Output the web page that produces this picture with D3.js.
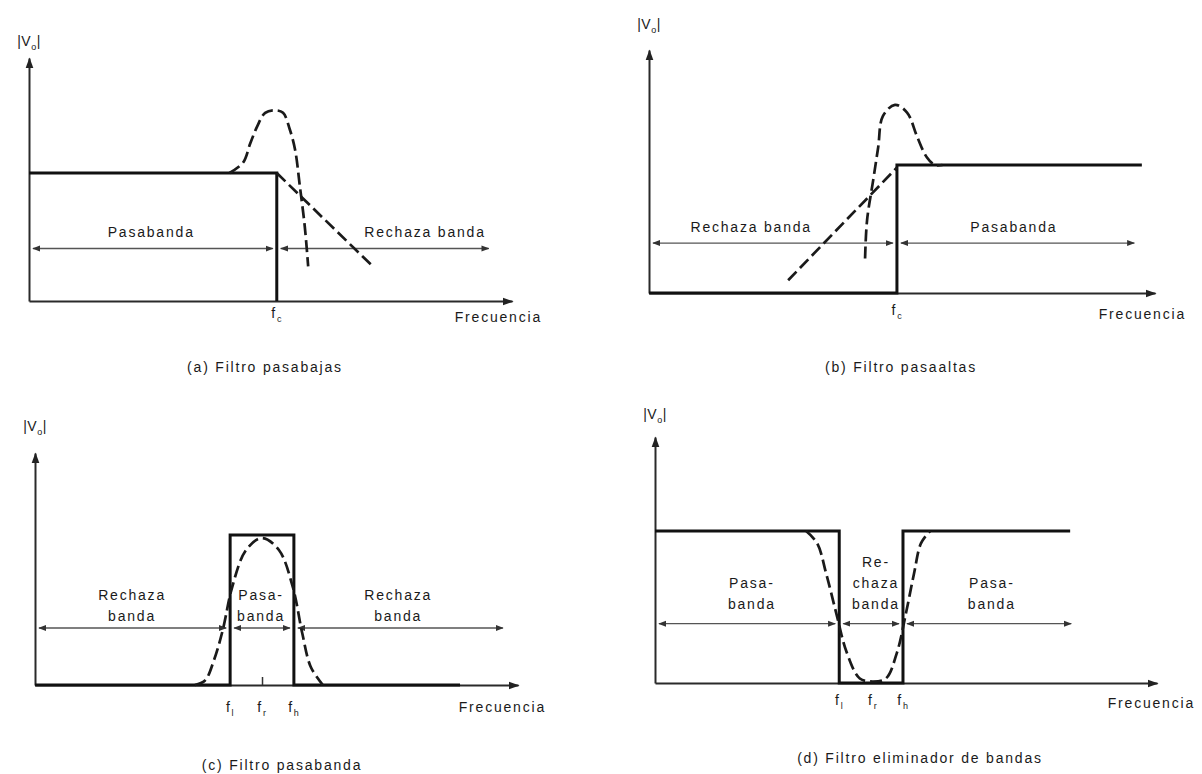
<!DOCTYPE html>
<html>
<head>
<meta charset="utf-8">
<script src="https://cdn.jsdelivr.net/npm/d3@7"></script>
<style>
  body { margin: 0; background: #fff; }
  svg text { font-family: "Liberation Sans", Arial, sans-serif; fill: #1a1a1a; letter-spacing: 1.8px; }
</style>
</head>
<body>
<svg id="chart" width="1202" height="774"></svg>
<script>
// frequency runs 0..100 along every x axis, |Vo| = 1 is the passband level

// (a) low pass
var lpTicks  = [{f: 51.3, sub: 'c'}],
    lpIdeal  = [[0, 1], [51.3, 1], [51.3, 0]],
    lpSlope  = [[51.3, 1], [71.2, 0.27]],
    lpReal   = [[41.5, 1.0], [44.3, 1.08], [45.8, 1.23], [47.2, 1.36], [48.9, 1.47], [50.9, 1.49],
                [52.6, 1.47], [54.0, 1.34], [55.1, 1.18], [56.1, 0.89], [57.1, 0.58], [57.8, 0.27]],
    lpBands  = [{from: 0, to: 51.3, at: 25.3, text: ['Pasabanda']},
                {from: 51.3, to: 96, at: 82, text: ['Rechaza banda']}];

// (b) high pass
var hpTicks  = [{f: 49, sub: 'c'}],
    hpIdeal  = [[0, 0], [49, 0], [49, 1], [97.4, 1]],
    hpSlope  = [[27.5, 0.10], [49, 0.98]],
    hpReal   = [[42.7, 0.27], [43.1, 0.57], [44.3, 0.88], [45.3, 1.14], [46.2, 1.38], [48.6, 1.47],
                [51.0, 1.41], [53.0, 1.22], [54.9, 1.06], [56.5, 1.0], [58, 1.0]],
    hpBands  = [{from: 0, to: 49, at: 20.2, text: ['Rechaza banda']},
                {from: 49, to: 96.7, at: 72.1, text: ['Pasabanda']}];

// (c) band pass
var bpTicks  = [{f: 40.4, sub: 'l'}, {f: 47.0, sub: 'r', mark: true}, {f: 53.6, sub: 'h'}],
    bpIdeal  = [[0, 0], [40.4, 0], [40.4, 1], [53.6, 1], [53.6, 0], [88, 0]],
    bpReal   = [[33.1, 0], [35.2, 0.03], [37.1, 0.17], [38.9, 0.37], [40.8, 0.65], [43.7, 0.90], [47.0, 0.98],
                [50.5, 0.90], [53.4, 0.65], [55.3, 0.35], [57.1, 0.12], [59.6, 0]],
    bpBands  = [{from: 0, to: 40.4, at: 20.1, text: ['Rechaza', 'banda']},
                {from: 40.4, to: 53.6, at: 46.8, text: ['Pasa-', 'banda']},
                {from: 53.6, to: 97.7, at: 75.2, text: ['Rechaza', 'banda']}];

// (d) band stop
var bsTicks  = [{f: 36.7, sub: 'l'}, {f: 43.4, sub: 'r'}, {f: 49.4, sub: 'h'}],
    bsIdeal  = [[0, 1], [36.7, 1], [36.7, 0], [49.4, 0], [49.4, 1], [82.7, 1]],
    bsReal   = [[30.1, 1.0], [32.3, 0.92], [34.1, 0.72], [36.1, 0.46], [38.2, 0.20], [40.8, 0.03], [43.4, 0.01],
                [46.0, 0.03], [48.2, 0.20], [50.0, 0.46], [51.6, 0.72], [53.0, 0.92], [54.8, 1.0]],
    bsBands  = [{from: 0, to: 36.7, at: 19.3, text: ['Pasa-', 'banda']},
                {from: 36.7, to: 49.4, at: 44, text: ['Re-', 'chaza', 'banda']},
                {from: 49.4, to: 83.7, at: 67.1, text: ['Pasa-', 'banda']}];

var captions = ['(a) Filtro pasabajas', '(b) Filtro pasaaltas', '(c) Filtro pasabanda', '(d) Filtro eliminador de bandas'],
    xTitle   = 'Frecuencia';

// pixel layout of each panel
var panels = [
    {x0: 29,  x1: 512,  y0: 301, level: 173, yTop: 58,  arrowAt: 0.41, labelAt: 0.50, vLabelY: 46,
     tickDy: 17, freqX: 542,  freqDy: 21, capX: 265, capY: 372,
     ticks: lpTicks, ideal: lpIdeal, slope: lpSlope, real: lpReal, bands: lpBands, caption: captions[0]},
    {x0: 649, x1: 1155, y0: 293, level: 165, yTop: 50,  arrowAt: 0.39, labelAt: 0.48, vLabelY: 29,
     tickDy: 22, freqX: 1186, freqDy: 26, capX: 901, capY: 372,
     ticks: hpTicks, ideal: hpIdeal, slope: hpSlope, real: hpReal, bands: hpBands, caption: captions[1]},
    {x0: 35,  x1: 518,  y0: 685, level: 535, yTop: 453, arrowAt: 0.38, labelAt: 0.43, vLabelY: 431,
     tickDy: 27, freqX: 546,  freqDy: 27, capX: 282, capY: 770,
     ticks: bpTicks, ideal: bpIdeal, slope: null, real: bpReal, bands: bpBands, caption: captions[2]},
    {x0: 655, x1: 1157, y0: 683, level: 531, yTop: 437, arrowAt: 0.39, labelAt: 0.49, vLabelY: 419,
     tickDy: 22, freqX: 1195, freqDy: 25, capX: 920, capY: 763,
     ticks: bsTicks, ideal: bsIdeal, slope: null, real: bsReal, bands: bsBands, caption: captions[3]}
];

var svg  = d3.select('#chart'),
    defs = svg.append('defs');

defs.append('marker')
    .attr('id', 'axisHead')
    .attr('viewBox', '0 -5 10 10')
    .attr('refX', 9).attr('refY', 0)
    .attr('markerUnits', 'userSpaceOnUse')
    .attr('markerWidth', 11).attr('markerHeight', 11)
    .attr('orient', 'auto')
  .append('path')
    .attr('d', 'M0,-3.6L10,0L0,3.6Z')
    .attr('fill', '#222');

defs.append('marker')
    .attr('id', 'bandHead')
    .attr('viewBox', '0 -5 10 10')
    .attr('refX', 9).attr('refY', 0)
    .attr('markerUnits', 'userSpaceOnUse')
    .attr('markerWidth', 8).attr('markerHeight', 8)
    .attr('orient', 'auto-start-reverse')
  .append('path')
    .attr('d', 'M0,-3.8L10,0L0,3.8Z')
    .attr('fill', '#333');

panels.forEach(drawPanel);

function drawPanel(p) {
    var g = svg.append('g'),
        x = d3.scaleLinear().domain([0, 100]).range([p.x0, p.x1]),
        y = d3.scaleLinear().domain([0, 1]).range([p.y0, p.level]),
        yAxisScale = d3.scaleLinear().domain([0, y.invert(p.yTop)]).range([p.y0, p.yTop]),
        straight = d3.line().x(function(d) { return x(d[0]); }).y(function(d) { return y(d[1]); }),
        smooth = d3.line().x(function(d) { return x(d[0]); }).y(function(d) { return y(d[1]); })
            .curve(d3.curveCatmullRom.alpha(0.5));

    // band arrows
    g.selectAll('line.band')
        .data(p.bands)
        .enter()
        .append('line')
        .attr('class', 'band')
        .attr('x1', function(d) { return x(d.from) + 4; })
        .attr('x2', function(d) { return x(d.to) - 4; })
        .attr('y1', y(p.arrowAt))
        .attr('y2', y(p.arrowAt))
        .attr('stroke', '#555')
        .attr('stroke-width', 1.3)
        .attr('marker-start', 'url(#bandHead)')
        .attr('marker-end', 'url(#bandHead)');

    // band names, bottom line sits on labelAt
    p.bands.forEach(function(b) {
        var n = b.text.length;
        g.selectAll(null)
            .data(b.text)
            .enter()
            .append('text')
            .attr('x', x(b.at))
            .attr('y', function(d, i) { return y(p.labelAt) - (n - 1 - i) * 21; })
            .attr('text-anchor', 'middle')
            .style('font-size', '14px')
            .text(function(d) { return d; });
    });

    // axes
    var xAxis = g.append('g')
        .attr('transform', 'translate(0,' + p.y0 + ')')
        .call(d3.axisBottom(x)
            .tickValues(p.ticks.map(function(t) { return t.f; }))
            .tickSizeInner(0)
            .tickSizeOuter(0)
            .tickFormat(''));
    xAxis.select('.domain')
        .attr('stroke', '#2a2a2a')
        .attr('stroke-width', 2)
        .attr('marker-end', 'url(#axisHead)');
    xAxis.selectAll('.tick line')
        .attr('y2', function(d, i) { return p.ticks[i].mark ? -8 : 0; })
        .attr('stroke', '#333')
        .attr('stroke-width', 1.5);
    xAxis.selectAll('.tick text')
        .attr('y', p.tickDy)
        .attr('dy', null)
        .attr('fill', '#1a1a1a')
        .style('font-family', '"Liberation Sans", Arial, sans-serif')
        .style('font-size', '14px')
        .each(function(d, i) {
            var t = d3.select(this);
            t.append('tspan').text('f');
            t.append('tspan').attr('dy', 4).style('font-size', '9px').text(p.ticks[i].sub);
        });

    var yAxis = g.append('g')
        .attr('transform', 'translate(' + p.x0 + ',0)')
        .call(d3.axisLeft(yAxisScale).tickValues([]).tickSizeOuter(0));
    yAxis.select('.domain')
        .attr('stroke', '#2a2a2a')
        .attr('stroke-width', 2)
        .attr('marker-end', 'url(#axisHead)');

    // ideal response
    g.append('path')
        .attr('d', straight(p.ideal))
        .attr('fill', 'none')
        .attr('stroke', '#111')
        .attr('stroke-width', 3);

    // practical responses, dashed
    if (p.slope) {
        g.append('path')
            .attr('d', straight(p.slope))
            .attr('fill', 'none')
            .attr('stroke', '#1a1a1a')
            .attr('stroke-width', 2.7)
            .attr('stroke-dasharray', '12,5');
    }
    g.append('path')
        .attr('d', smooth(p.real))
        .attr('fill', 'none')
        .attr('stroke', '#1a1a1a')
        .attr('stroke-width', 2.7)
        .attr('stroke-dasharray', '12,5');

    // |Vo| label
    var v = g.append('text')
        .attr('x', p.x0)
        .attr('y', p.vLabelY)
        .attr('text-anchor', 'middle')
        .style('font-size', '14px')
        .style('letter-spacing', '0.5px');
    v.append('tspan').text('|V');
    v.append('tspan').attr('dy', 4).style('font-size', '9px').text('o');
    v.append('tspan').attr('dy', -4).text('|');

    g.append('text')
        .attr('x', p.freqX)
        .attr('y', p.y0 + p.freqDy)
        .attr('text-anchor', 'end')
        .style('font-size', '14px')
        .text(xTitle);

    g.append('text')
        .attr('x', p.capX)
        .attr('y', p.capY)
        .attr('text-anchor', 'middle')
        .style('font-size', '14px')
        .text(p.caption);
}
</script>
</body>
</html>
